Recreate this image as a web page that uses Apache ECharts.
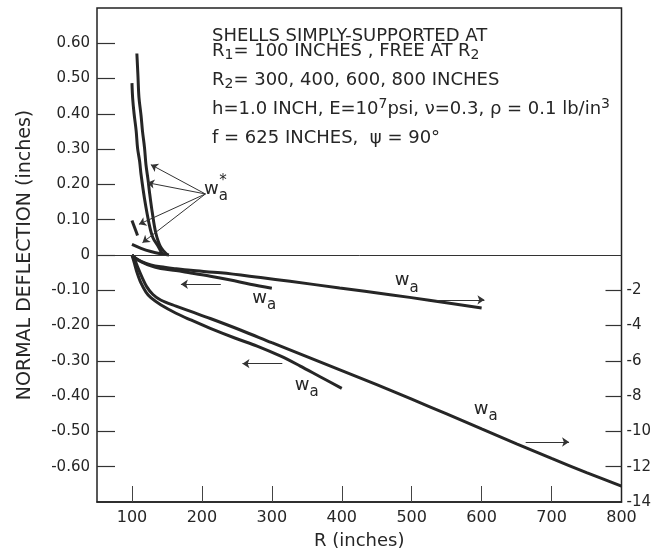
<!DOCTYPE html>
<html>
<head>
<meta charset="utf-8">
<script src="https://cdn.jsdelivr.net/npm/echarts@6/dist/echarts.min.js"></script>
<style>
  html, body { margin: 0; padding: 0; background: #ffffff; }
  #chart { width: 654px; height: 557px; }
</style>
</head>
<body>
<div id="chart"></div>
<script>
// ---- Axis ticks and labels ----
const xTickValues = [100, 200, 300, 400, 500, 600, 700];
const xLabelValues = [100, 200, 300, 400, 500, 600, 700, 800];
const leftTickValues = [-0.6, -0.5, -0.4, -0.3, -0.2, -0.1, 0, 0.1, 0.2, 0.3, 0.4, 0.5, 0.6];
const leftTickLabels = ['-0.60', '-0.50', '-0.40', '-0.30', '-0.20', '-0.10', '0',
                        '0.10', '0.20', '0.30', '0.40', '0.50', '0.60'];
const rightTickValues = [-12, -10, -8, -6, -4, -2];
const rightLabelValues = [-14, -12, -10, -8, -6, -4, -2];

// ---- Normal deflection w_a (negative branch) ----
// R2 = 300 in, read on the left scale (inches)
const r300 = [100, 106, 113, 127, 141, 163, 184, 212, 241, 269, 300];
const w300 = [0, -0.011, -0.019, -0.031, -0.038, -0.044, -0.051, -0.060, -0.071, -0.083, -0.094];
// R2 = 400 in, left scale
const r400 = [100, 103, 107, 113, 120, 127, 141, 163, 184, 212, 248, 279, 312, 340, 369, 400];
const w400 = [0, -0.020, -0.048, -0.080, -0.105, -0.121, -0.141, -0.165, -0.184, -0.208,
              -0.236, -0.258, -0.286, -0.314, -0.345, -0.378];
// R2 = 600 in, right scale
const r600 = [100, 106, 113, 127, 141, 163, 184, 227, 284, 326, 397, 469, 525, 600];
const w600 = [0, -0.20, -0.36, -0.56, -0.67, -0.78, -0.87, -1.01, -1.28, -1.49, -1.87, -2.25, -2.56, -3.00];
// R2 = 800 in, right scale
const r800 = [100, 104, 108, 114, 121, 130, 141, 163, 184, 212, 255, 300, 350, 400, 450, 500,
              550, 600, 650, 700, 750, 800];
const w800 = [0, -0.28, -0.67, -1.23, -1.79, -2.24, -2.55, -2.90, -3.20, -3.60, -4.25, -4.97,
              -5.76, -6.55, -7.35, -8.17, -9.01, -9.86, -10.70, -11.53, -12.33, -13.10];

// ---- w_a* (positive branch near the inner edge), left scale ----
const rStarA = [107, 108.5, 110, 113, 115, 118, 120, 123, 125, 129, 134, 141, 151];
const wStarA = [0.571, 0.510, 0.447, 0.395, 0.352, 0.303, 0.256, 0.213, 0.179, 0.121, 0.063, 0.023, 0];
const rStarB = [100, 101, 103, 106, 108, 111, 113, 118, 125, 130, 137, 144];
const wStarB = [0.487, 0.444, 0.401, 0.352, 0.303, 0.265, 0.228, 0.159, 0.084, 0.049, 0.026, 0];
const rStarC = [100, 108];
const wStarC = [0.098, 0.055];
const rStarD = [100, 113, 127, 141, 153];
const wStarD = [0.030, 0.019, 0.010, 0.0035, 0];

// ---- Annotations (R, deflection on left scale) ----
const starLabelPos = [220, 0.176];
const starMarkPos = [230, 0.208];
const starArrowFrom = [205, 0.173];
const starArrowTips = [[127, 0.256], [122, 0.205], [110, 0.087], [115, 0.035]];
const waLabelPos = [[289, -0.133], [493, -0.083], [350, -0.378], [606, -0.447]];
const waArrows = [
  [[227, -0.083], [170, -0.083]],
  [[535, -0.127], [604, -0.127]],
  [[315, -0.308], [258, -0.308]],
  [[663, -0.530], [725, -0.530]]
];

// ---- Text block ----
const infoLines = [
  'SHELLS SIMPLY-SUPPORTED AT',
  'R{s|1}= 100 INCHES , FREE AT R{s|2}',
  'R{s|2}= 300, 400, 600, 800 INCHES',
  'h=1.0 INCH, E=10{p|7}psi, \u03bd=0.3, \u03c1 = 0.1 lb/in{p|3}',
  'f = 625 INCHES,  \u03c8 = 90\u00b0'
];
const infoLineY = [36, 51, 80, 109, 138];

const FONT = 'DejaVu Sans';
const INK = '#262626';

function zip(xs, ys) { return xs.map((x, i) => [x, ys[i]]); }

function curve(name, xs, ys, axis) {
  return {
    name: name, type: 'line', yAxisIndex: axis,
    data: zip(xs, ys),
    symbol: 'none', smooth: 0.35, silent: true,
    lineStyle: { color: INK, width: 3 },
    z: 3
  };
}

const chart = echarts.init(document.getElementById('chart'), null, { renderer: 'canvas' });

const waRich = {
  w: { fontFamily: FONT, fontSize: 18, color: INK, padding: [0, 0, 7, 0] },
  s: { fontFamily: FONT, fontSize: 15, color: INK, padding: [7, 0, 0, 0] }
};

const subSupRich = {
  s: { fontFamily: FONT, fontSize: 14, color: INK, padding: [9, 0, 0, 0] },
  p: { fontFamily: FONT, fontSize: 14, color: INK, padding: [0, 0, 9, 0] }
};

const option = {
  animation: false,
  backgroundColor: '#ffffff',
  grid: {
    left: 97, right: 31, top: 8, bottom: 55,
    show: true, borderColor: '#222', borderWidth: 1.5, backgroundColor: 'transparent'
  },
  xAxis: {
    type: 'value', min: 50, max: 800,
    name: 'R (inches)', nameLocation: 'middle', nameGap: 30,
    nameTextStyle: { fontFamily: FONT, fontSize: 18, color: INK },
    axisLine: { show: true, onZero: false, lineStyle: { color: '#222', width: 1.5 } },
    splitLine: { show: false },
    axisTick: { show: true, inside: true, length: 16, customValues: xTickValues,
                lineStyle: { color: '#444', width: 1 } },
    axisLabel: { customValues: xLabelValues, margin: 8,
                 fontFamily: FONT, fontSize: 16, color: INK }
  },
  yAxis: [
    {
      type: 'value', min: -0.7, max: 0.7, position: 'left',
      name: 'NORMAL DEFLECTION (inches)', nameLocation: 'middle', nameGap: 62,
      nameTextStyle: { fontFamily: FONT, fontSize: 19, color: INK },
      axisLine: { show: false, onZero: false },
      splitLine: { show: false },
      axisTick: { show: true, inside: true, length: 18, customValues: leftTickValues,
                  lineStyle: { color: '#333', width: 1.2 } },
      axisLabel: {
        customValues: leftTickValues, margin: 7,
        fontFamily: FONT, fontSize: 15, color: INK,
        formatter: function (v) {
          const i = leftTickValues.findIndex(t => Math.abs(t - v) < 1e-6);
          return i >= 0 ? leftTickLabels[i] : '';
        }
      }
    },
    {
      type: 'value', min: -14, max: 14, position: 'right',
      axisLine: { show: false, onZero: false },
      splitLine: { show: false },
      axisTick: { show: true, inside: true, length: 16, customValues: rightTickValues,
                  lineStyle: { color: '#333', width: 1.2 } },
      axisLabel: { customValues: rightLabelValues, margin: 5,
                   fontFamily: FONT, fontSize: 15, color: INK }
    }
  ],
  series: [
    curve('wa R2=300', r300, w300, 0),
    curve('wa R2=400', r400, w400, 0),
    curve('wa R2=600', r600, w600, 1),
    curve('wa R2=800', r800, w800, 1),
    curve('wa* A', rStarA, wStarA, 0),
    curve('wa* B', rStarB, wStarB, 0),
    curve('wa* C', rStarC, wStarC, 0),
    curve('wa* D', rStarD, wStarD, 0),
    {
      // zero reference line
      name: 'zero', type: 'line', yAxisIndex: 0, data: [], silent: true,
      markLine: {
        silent: true, symbol: ['none', 'none'], label: { show: false },
        lineStyle: { color: '#333', width: 1, type: 'solid' },
        data: [{ yAxis: 0 }]
      }
    },
    {
      // leader arrows and curve labels
      name: 'notes', type: 'line', yAxisIndex: 0, data: [], silent: true,
      markLine: {
        silent: true, symbol: ['none', 'arrow'], symbolSize: 7,
        label: { show: false },
        lineStyle: { color: '#333', width: 1, type: 'solid' },
        data: starArrowTips.map(t => [{ coord: starArrowFrom }, { coord: t }])
          .concat(waArrows.map(a => [{ coord: a[0] }, { coord: a[1] }]))
      },
      markPoint: {
        silent: true, symbol: 'circle', symbolSize: 0,
        itemStyle: { color: 'transparent' },
        label: { show: true, position: 'inside', color: INK, fontFamily: FONT },
        data: waLabelPos.concat([starLabelPos]).map(p => ({
          coord: p,
          label: { formatter: '{w|w}{s|a}', rich: waRich }
        })).concat([{
          coord: starMarkPos,
          label: { formatter: '*', fontSize: 15, fontFamily: FONT, color: INK }
        }])
      }
    }
  ],
  graphic: infoLines.map((t, i) => ({
    type: 'text', x: 212, y: infoLineY[i], silent: true,
    style: {
      text: t, fill: INK, font: '18px "DejaVu Sans"',
      textVerticalAlign: 'middle', rich: subSupRich
    }
  }))
};

chart.setOption(option);
</script>
</body>
</html>
